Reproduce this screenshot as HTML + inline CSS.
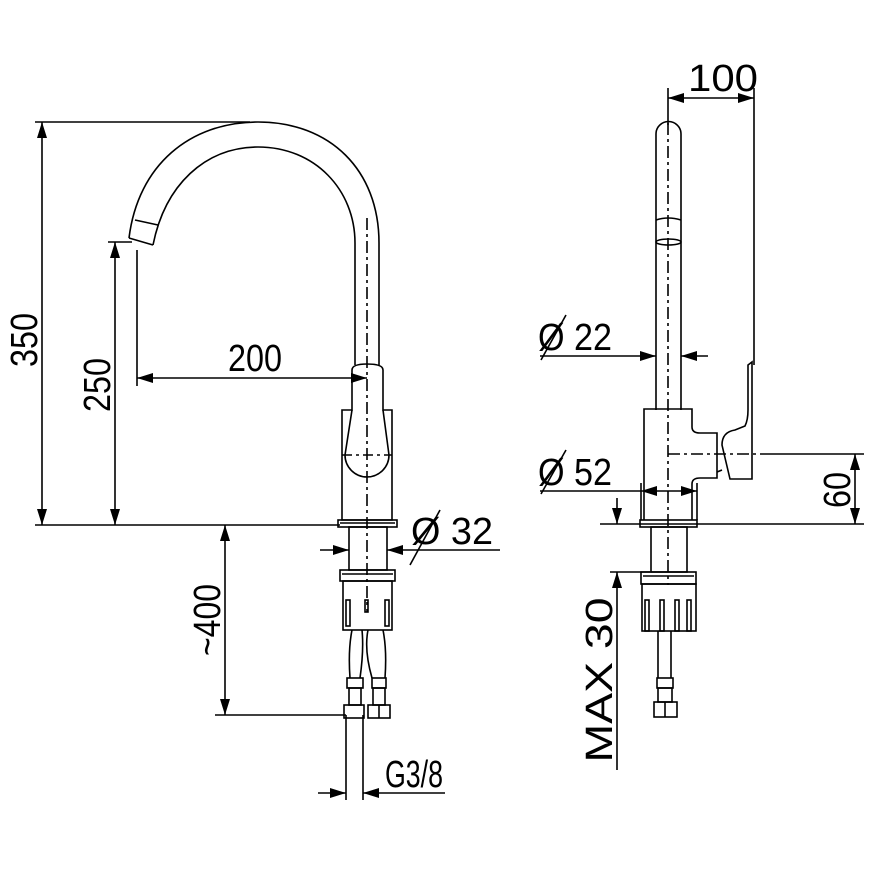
<!DOCTYPE html>
<html><head><meta charset="utf-8"><style>
html,body{margin:0;padding:0;background:#fff;}
svg{display:block;}
text{font-family:"Liberation Sans",sans-serif;font-size:38px;fill:#000;}
</style></head><body>
<svg width="870" height="870" viewBox="0 0 870 870" xmlns="http://www.w3.org/2000/svg">
<defs>
<marker id="a" viewBox="0 0 16 10" refX="16" refY="5" markerWidth="16" markerHeight="10" markerUnits="userSpaceOnUse" orient="auto"><path d="M0,0 L16,5 L0,10 Z" fill="#000"/></marker>
<marker id="b" viewBox="0 0 16 10" refX="0" refY="5" markerWidth="16" markerHeight="10" markerUnits="userSpaceOnUse" orient="auto"><path d="M16,0 L0,5 L16,10 Z" fill="#000"/></marker>
</defs>
<g stroke="#000" stroke-width="1.6" fill="none">
<line x1="35" y1="122" x2="250" y2="122"/>
<line x1="35" y1="525" x2="340" y2="525"/>
<line x1="42" y1="122" x2="42" y2="525" marker-start="url(#b)" marker-end="url(#a)"/>
<line x1="108" y1="242" x2="132" y2="242"/>
<line x1="115" y1="242" x2="115" y2="525" marker-start="url(#b)" marker-end="url(#a)"/>
<line x1="137" y1="250" x2="137" y2="386"/>
<line x1="137" y1="378" x2="367" y2="378" marker-start="url(#b)" marker-end="url(#a)"/>
<line x1="225" y1="525" x2="225" y2="715" marker-start="url(#b)" marker-end="url(#a)"/>
<line x1="215" y1="715" x2="346" y2="715"/>
<line x1="320" y1="550" x2="349" y2="550" marker-end="url(#a)"/>
<line x1="500" y1="550" x2="387" y2="550" marker-end="url(#a)"/>
<line x1="346" y1="715" x2="346" y2="800"/>
<line x1="363" y1="715" x2="363" y2="800"/>
<line x1="318" y1="793" x2="346" y2="793" marker-end="url(#a)"/>
<line x1="445" y1="793" x2="363" y2="793" marker-end="url(#a)"/>
<path d="M129,238 C138,165 190,122 258,122 C330,122 379,170 379,243 L379,365"/>
<path d="M153,245 C165,185 205,147 258,147 C315,147 355,190 355,243 L355,365"/>
<line x1="135" y1="220" x2="158" y2="225"/>
<line x1="129" y1="238" x2="153" y2="245"/>
<path d="M352,370 Q352,364 367,364 Q383,364 383,370 L383,410 L392,410 L392,520 L342,520 L342,410 L352,410 Z"/>
<path d="M352,410 L345,455 A22,22 0 0 0 389,455 L383,410"/>
<line x1="342" y1="455" x2="392" y2="455" stroke-dasharray="10,4,3,4"/>
<rect x="338" y="520" width="59" height="7"/>
<line x1="340" y1="523" x2="395" y2="523"/>
<rect x="349" y="527" width="38" height="43"/>
<rect x="340" y="570" width="55" height="11"/>
<line x1="342" y1="574" x2="393" y2="574"/>
<rect x="343" y="581" width="49" height="49"/>
<rect x="346" y="600" width="4" height="26"/><rect x="385" y="600" width="4" height="26"/><rect x="365" y="600" width="3" height="12"/>
<path d="M352,630 Q348,650 350,678 M362,630 Q364,650 360,678 M368,630 Q364,650 372,678 M383,630 Q387,650 385,678"/>
<rect x="347" y="678" width="16" height="10"/><rect x="349" y="688" width="12" height="17"/>
<rect x="372" y="678" width="14" height="10"/><rect x="373" y="688" width="12" height="17"/>
<rect x="344" y="705" width="20" height="13"/><rect x="368" y="705" width="22" height="13"/>
<line x1="379" y1="705" x2="379" y2="718"/>
<line x1="367" y1="218" x2="367" y2="612" stroke-dasharray="12,4,3,4"/>
<line x1="410" y1="565" x2="440" y2="510"/>
<line x1="668" y1="88" x2="668" y2="125"/>
<line x1="754" y1="88" x2="754" y2="365"/>
<line x1="668" y1="98" x2="754" y2="98" marker-start="url(#b)" marker-end="url(#a)"/>
<path d="M656,410 L656,134 A12.5,12.5 0 0 1 681,134 L681,410"/>
<path d="M656,220 Q668,216 681,220"/>
<ellipse cx="668.5" cy="242" rx="12.5" ry="3"/>
<line x1="668" y1="123" x2="668" y2="585" stroke-dasharray="12,4,3,4"/>
<line x1="540" y1="356" x2="656" y2="356" marker-end="url(#a)"/>
<line x1="708" y1="356" x2="681" y2="356" marker-end="url(#a)"/>
<path d="M644,520 L644,409 L692,409 L692,427 Q692,433 700,433 L717,433 L717,478 L700,478 Q692,478 692,484 L692,520"/>
<path d="M748,365 L752,362 L752,479 L730,479 L722,445 Q722,432 735,430 L745,426 Q748,420 748,410 Z"/>
<path d="M722,470 L717,472"/>
<line x1="668" y1="454" x2="770" y2="454" stroke-dasharray="12,4,3,4"/>
<line x1="770" y1="454" x2="864" y2="454"/>
<line x1="600" y1="524" x2="864" y2="524"/>
<line x1="855" y1="454" x2="855" y2="524" marker-start="url(#b)" marker-end="url(#a)"/>
<line x1="641" y1="483" x2="641" y2="520"/><line x1="697" y1="483" x2="697" y2="520"/>
<line x1="540" y1="491" x2="641" y2="491"/>
<line x1="641" y1="491" x2="697" y2="491" marker-start="url(#b)" marker-end="url(#a)"/>
<rect x="640" y="520" width="57" height="7"/>
<rect x="651" y="527" width="36" height="45"/>
<rect x="641" y="572" width="55" height="12"/>
<line x1="643" y1="576" x2="694" y2="576"/>
<rect x="642" y="584" width="54" height="47"/>
<rect x="645" y="600" width="4" height="31"/><rect x="687" y="600" width="4" height="31"/><rect x="660" y="600" width="4" height="31"/><rect x="675" y="600" width="4" height="31"/>
<path d="M658,631 L658,678 M671,631 L671,678"/>
<rect x="657" y="678" width="16" height="10"/><rect x="658" y="688" width="14" height="14"/>
<rect x="654" y="702" width="23" height="15"/><line x1="665" y1="702" x2="665" y2="717"/>
<line x1="617" y1="498" x2="617" y2="524" marker-end="url(#a)"/>
<line x1="617" y1="770" x2="617" y2="572" marker-end="url(#a)"/>
<line x1="610" y1="572" x2="650" y2="572"/>
<line x1="541" y1="360" x2="566" y2="315"/>
<line x1="541" y1="494" x2="566" y2="450"/>
</g>
<g>
<text transform="translate(37,340) rotate(-90)" text-anchor="middle" textLength="54" lengthAdjust="spacingAndGlyphs">350</text>
<text transform="translate(110,385) rotate(-90)" text-anchor="middle" textLength="54" lengthAdjust="spacingAndGlyphs">250</text>
<text transform="translate(220,620) rotate(-90)" text-anchor="middle" textLength="72" lengthAdjust="spacingAndGlyphs">~400</text>
<text x="228" y="371" textLength="54" lengthAdjust="spacingAndGlyphs">200</text>
<text x="411" y="544" textLength="82" lengthAdjust="spacingAndGlyphs">Ø 32</text>
<text x="385" y="787" textLength="58" lengthAdjust="spacingAndGlyphs">G3/8</text>
<text x="688" y="91" textLength="70" lengthAdjust="spacingAndGlyphs">100</text>
<text x="538" y="350" textLength="74" lengthAdjust="spacingAndGlyphs">Ø 22</text>
<text x="538" y="485" textLength="74" lengthAdjust="spacingAndGlyphs">Ø 52</text>
<text transform="translate(850,490) rotate(-90)" text-anchor="middle" textLength="36" lengthAdjust="spacingAndGlyphs">60</text>
<text transform="translate(612,680) rotate(-90)" text-anchor="middle" textLength="165" lengthAdjust="spacingAndGlyphs">MAX 30</text>
</g>
</svg>
</body></html>
